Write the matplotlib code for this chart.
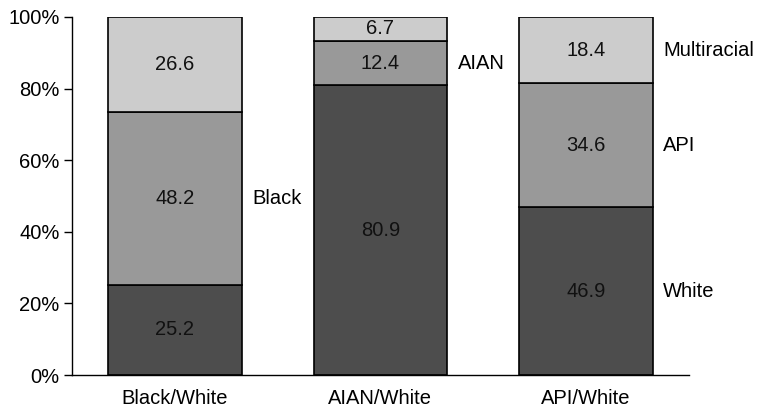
import matplotlib.pyplot as plt
import numpy as np

plt.rcParams['font.family'] = ['Liberation Sans', 'DejaVu Sans']

groups = ["Black/White", "AIAN/White", "API/White"]
bottom_vals = [25.2, 80.9, 46.9]
middle_vals = [48.2, 12.4, 34.6]
top_vals = [26.6, 6.7, 18.4]
middle_names = ["Black", "AIAN", "API"]
colors = ["#4d4d4d", "#999999", "#cccccc"]

fs = 14.5

fig = plt.figure(figsize=(7.75, 4.12), dpi=100)
ax = fig.add_axes([0.0929, 0.0898, 0.796, 0.869])

x = np.arange(len(groups))
w = 0.65
layers = [bottom_vals, middle_vals, top_vals]
base = np.zeros(len(groups))
for vals, c in zip(layers, colors):
    vals = np.array(vals)
    ax.bar(x, vals, w, bottom=base, color=c, edgecolor="black", linewidth=1.2)
    for xi, b, v in zip(x, base, vals):
        ax.text(xi, b + v / 2, f"{v:.1f}", ha="center", va="center", fontsize=fs, color="#111111")
    base += vals

# side labels next to segments
off = w / 2 + 0.05
b = np.array(bottom_vals); m = np.array(middle_vals); t = np.array(top_vals)
ax.text(0 + off, b[0] + m[0] / 2, middle_names[0], va="center", fontsize=fs)
ax.text(1 + off, b[1] + m[1] / 2, middle_names[1], va="center", fontsize=fs)
ax.text(2 + off, b[2] + m[2] + t[2] / 2, "Multiracial", va="center", fontsize=fs)
ax.text(2 + off, b[2] + m[2] / 2, middle_names[2], va="center", fontsize=fs)
ax.text(2 + off, b[2] / 2, "White", va="center", fontsize=fs)

ax.set_xlim(-0.5, 2.5)
ax.set_ylim(0, 100)
ax.set_yticks(range(0, 101, 20))
ax.set_yticklabels([f"{v}%" for v in range(0, 101, 20)], fontsize=fs)
ax.set_xticks(x)
ax.set_xticklabels(groups, fontsize=fs)
ax.tick_params(axis="x", length=0, pad=10)
ax.tick_params(axis="y", length=6, width=1, direction="out", pad=3)
ax.spines["top"].set_visible(False)
ax.spines["right"].set_visible(False)
ax.spines["left"].set_linewidth(1)
ax.spines["bottom"].set_linewidth(1)

fig.savefig("out.png", dpi=100)
